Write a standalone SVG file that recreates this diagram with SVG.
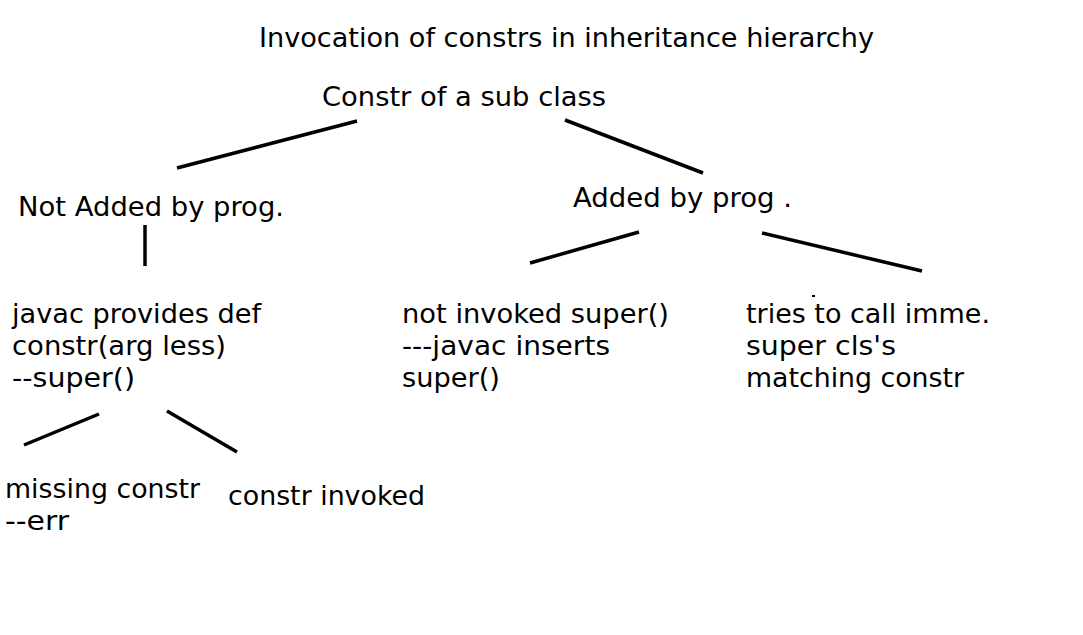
<svg xmlns="http://www.w3.org/2000/svg" width="1083" height="635" viewBox="0 0 1083 635">
<style>
text{font-family:"DejaVu Sans","Liberation Sans",sans-serif;font-size:26px;fill:#000;}
.c line{stroke:#000;stroke-width:3.5;stroke-linecap:butt;}
</style>
<rect width="1083" height="635" fill="#fff"/>
<g id="title"><text x="259" y="47" textLength="615" lengthAdjust="spacingAndGlyphs">Invocation of constrs in inheritance hierarchy</text></g>
<g id="root"><text x="322" y="106" textLength="284" lengthAdjust="spacingAndGlyphs">Constr of a sub class</text></g>
<g id="notAdded"><text x="18" y="216" textLength="266" lengthAdjust="spacingAndGlyphs">Not Added by prog.</text></g>
<g id="added"><text x="573" y="207" textLength="219" lengthAdjust="spacingAndGlyphs">Added by prog .</text></g>
<g id="javacDef">
<text x="12" y="323" textLength="249" lengthAdjust="spacingAndGlyphs">javac provides def</text>
<text x="12" y="355" textLength="214" lengthAdjust="spacingAndGlyphs">constr(arg less)</text>
<text x="12" y="387" textLength="123" lengthAdjust="spacingAndGlyphs">--super()</text>
</g>
<g id="notInvoked">
<text x="402" y="323" textLength="267" lengthAdjust="spacingAndGlyphs">not invoked super()</text>
<text x="402" y="355" textLength="208" lengthAdjust="spacingAndGlyphs">---javac inserts</text>
<text x="402" y="387" textLength="98" lengthAdjust="spacingAndGlyphs">super()</text>
</g>
<g id="tries">
<text x="746" y="323" textLength="244" lengthAdjust="spacingAndGlyphs">tries to call imme.</text>
<text x="746" y="355" textLength="150" lengthAdjust="spacingAndGlyphs">super cls's</text>
<text x="746" y="387" textLength="218" lengthAdjust="spacingAndGlyphs">matching constr</text>
<rect x="812" y="295" width="3" height="2" fill="#000"/>
</g>
<g id="missing">
<text x="5" y="498" textLength="195" lengthAdjust="spacingAndGlyphs">missing constr</text>
<text x="5" y="530" textLength="64" lengthAdjust="spacingAndGlyphs">--err</text>
</g>
<g id="invoked"><text x="228" y="505" textLength="197" lengthAdjust="spacingAndGlyphs">constr invoked</text></g>
<g id="connectors" class="c">
<line x1="357" y1="121" x2="177" y2="168"/>
<line x1="565" y1="120" x2="703" y2="173"/>
<line x1="145" y1="225" x2="145" y2="266"/>
<line x1="639" y1="232" x2="530" y2="263"/>
<line x1="762" y1="233" x2="922" y2="271"/>
<line x1="99" y1="414" x2="24" y2="445"/>
<line x1="167" y1="411" x2="237" y2="452"/>
</g>
</svg>
